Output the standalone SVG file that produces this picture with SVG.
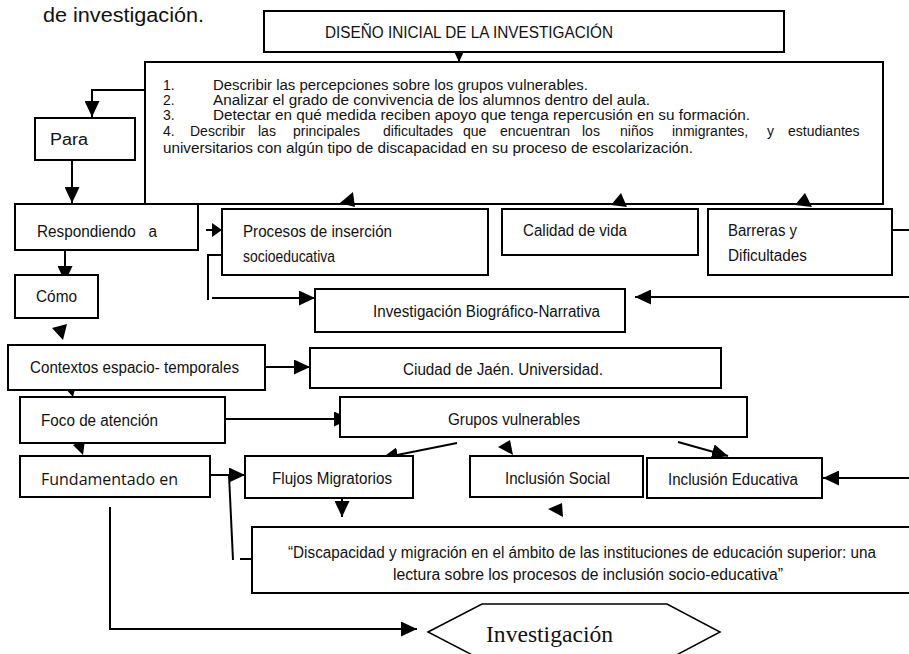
<svg xmlns="http://www.w3.org/2000/svg" width="909" height="654" viewBox="0 0 909 654">
<style>
.box{fill:#fff;stroke:#000;stroke-width:2}
.t{font-family:"Liberation Sans",Arial,sans-serif;font-size:16px;fill:#111}
.o{font-family:"Liberation Sans",Arial,sans-serif;font-size:14px;fill:#111}
.c{stroke:#000;stroke-width:2;fill:none}
.ah{fill:#000}
</style>
<defs>
<marker id="arr" markerUnits="userSpaceOnUse" markerWidth="16" markerHeight="15" refX="16" refY="7.5" orient="auto">
<path d="M0,0 L16,7.5 L0,15 z" fill="#000"/>
</marker>
</defs>
<rect width="909" height="654" fill="#fff"/>
<text class="t" x="43" y="22" style="font-size:20px" textLength="161" lengthAdjust="spacingAndGlyphs">de investigación.</text>

<g id="connectors">
<line class="c" x1="459" y1="46" x2="459" y2="62" marker-end="url(#arr)"/>
<polyline class="c" points="145,90 92,90 92,117" marker-end="url(#arr)"/>
<line class="c" x1="72" y1="160" x2="72" y2="203" marker-end="url(#arr)"/>
<line class="c" x1="206" y1="230" x2="214" y2="230"/>
<polygon class="ah" points="212,223 222,230 212,237"/>
<polyline class="c" points="222,255 208,255 208,300"/>
<line class="c" x1="212" y1="298" x2="315" y2="298" marker-end="url(#arr)"/>
<line class="c" x1="909" y1="297" x2="635" y2="297" marker-end="url(#arr)"/>
<line class="c" x1="892" y1="230" x2="909" y2="230"/>
<polygon class="ah" points="340,203 353,192 355,207"/>
<polygon class="ah" points="611,205 627,207 621,193"/>
<polygon class="ah" points="795,205 812,207 805,193"/>
<line class="c" x1="65" y1="250" x2="65" y2="282" marker-end="url(#arr)"/>
<polygon class="ah" points="52,328 67,324 63,340"/>
<polygon class="ah" points="63,386 77,381 73,397"/>
<polygon class="ah" points="73,445 85,440 83,455"/>
<line class="c" x1="265" y1="367" x2="310" y2="367" marker-end="url(#arr)"/>
<line class="c" x1="225" y1="419" x2="350" y2="419" marker-end="url(#arr)"/>
<line class="c" x1="457" y1="443" x2="382" y2="458" marker-end="url(#arr)"/>
<polygon class="ah" points="498,447 510,440 513,455"/>
<line class="c" x1="678" y1="442" x2="728" y2="456" marker-end="url(#arr)"/>
<line class="c" x1="909" y1="478" x2="823" y2="478" marker-end="url(#arr)"/>
<line class="c" x1="211" y1="475" x2="245" y2="475" marker-end="url(#arr)"/>
<line class="c" x1="229" y1="475" x2="233" y2="560"/>
<line class="c" x1="240" y1="559" x2="257" y2="559"/>
<line class="c" x1="342" y1="498" x2="342" y2="517" marker-end="url(#arr)"/>
<polygon class="ah" points="548,509 562,503 563,517"/>
<line class="c" x1="887" y1="543" x2="909" y2="543"/>
<polyline class="c" points="110,507 110,629 417,629" marker-end="url(#arr)"/>
</g>

<g id="diseno">
<rect class="box" x="264" y="11" width="520" height="41"/>
<text class="t" x="325" y="38" textLength="288" lengthAdjust="spacingAndGlyphs">DISEÑO INICIAL DE LA INVESTIGACIÓN</text>
</g>

<g id="objetivos">
<polyline class="c" points="145,204 145,62 883,62 883,204 145,204"/>
<text class="o" x="163" y="90">1.</text>
<text class="o" x="213" y="90" textLength="375" lengthAdjust="spacingAndGlyphs">Describir las percepciones sobre los grupos vulnerables.</text>
<text class="o" x="163" y="105">2.</text>
<text class="o" x="213" y="105" textLength="437" lengthAdjust="spacingAndGlyphs">Analizar el grado de convivencia de los alumnos dentro del aula.</text>
<text class="o" x="163" y="120">3.</text>
<text class="o" x="213" y="120" textLength="537" lengthAdjust="spacingAndGlyphs">Detectar en qué medida reciben apoyo que tenga repercusión en su formación.</text>
<text class="o" y="136"><tspan x="163">4.</tspan><tspan x="190">Describir</tspan><tspan x="258">las</tspan><tspan x="293">principales</tspan><tspan x="383">dificultades</tspan><tspan x="463">que</tspan><tspan x="500">encuentran</tspan><tspan x="582">los</tspan><tspan x="620">niños</tspan><tspan x="672">inmigrantes,</tspan><tspan x="767">y</tspan><tspan x="788">estudiantes</tspan></text>
<text class="o" x="163" y="153" textLength="530" lengthAdjust="spacingAndGlyphs">universitarios con algún tipo de discapacidad en su proceso de escolarización.</text>
</g>

<g id="para">
<rect class="box" x="35" y="118" width="100" height="42"/>
<text class="t" x="50" y="145" textLength="38" lengthAdjust="spacingAndGlyphs">Para</text>
</g>

<g id="respondiendo">
<rect class="box" x="15" y="204" width="183" height="46"/>
<text class="t" x="37" y="237" xml:space="preserve" textLength="120" lengthAdjust="spacingAndGlyphs">Respondiendo   a</text>
</g>

<g id="procesos">
<rect class="box" x="222" y="209" width="266" height="66"/>
<text class="t" x="243" y="237" textLength="149" lengthAdjust="spacingAndGlyphs">Procesos de inserción</text>
<text class="t" x="243" y="262" textLength="92" lengthAdjust="spacingAndGlyphs">socioeducativa</text>
</g>

<g id="calidad">
<rect class="box" x="502" y="209" width="196" height="46"/>
<text class="t" x="523" y="236" textLength="104" lengthAdjust="spacingAndGlyphs">Calidad de vida</text>
</g>

<g id="barreras">
<rect class="box" x="708" y="209" width="184" height="66"/>
<text class="t" x="728" y="236" textLength="69" lengthAdjust="spacingAndGlyphs">Barreras y</text>
<text class="t" x="728" y="261" textLength="79" lengthAdjust="spacingAndGlyphs">Dificultades</text>
</g>

<g id="como">
<rect class="box" x="15" y="275" width="83" height="43"/>
<text class="t" x="36" y="302" textLength="41" lengthAdjust="spacingAndGlyphs">Cómo</text>
</g>

<g id="biografico">
<rect class="box" x="315" y="289" width="310" height="43"/>
<text class="t" x="373" y="317" textLength="227" lengthAdjust="spacingAndGlyphs">Investigación Biográfico-Narrativa</text>
</g>

<g id="contextos">
<rect class="box" x="8" y="345" width="257" height="45"/>
<text class="t" x="30" y="373" textLength="209" lengthAdjust="spacingAndGlyphs">Contextos espacio- temporales</text>
</g>

<g id="ciudad">
<rect class="box" x="310" y="348" width="411" height="40"/>
<text class="t" x="403" y="375" textLength="200" lengthAdjust="spacingAndGlyphs">Ciudad de Jaén. Universidad.</text>
</g>

<g id="foco">
<rect class="box" x="20" y="397" width="205" height="46"/>
<text class="t" x="41" y="426" textLength="117" lengthAdjust="spacingAndGlyphs">Foco de atención</text>
</g>

<g id="grupos">
<rect class="box" x="340" y="397" width="407" height="40"/>
<text class="t" x="448" y="425" textLength="132" lengthAdjust="spacingAndGlyphs">Grupos vulnerables</text>
</g>

<g id="fundamentado">
<rect class="box" x="20" y="456" width="190" height="41"/>
<text x="41" y="485" style="font-family:'Open Sans','Noto Sans',sans-serif;font-size:17px;fill:#111" textLength="137" lengthAdjust="spacingAndGlyphs">Fundamentado en</text>
</g>

<g id="flujos">
<rect class="box" x="245" y="456" width="168" height="42"/>
<text class="t" x="272" y="484" textLength="120" lengthAdjust="spacingAndGlyphs">Flujos Migratorios</text>
</g>

<g id="inclusion-social">
<rect class="box" x="470" y="456" width="173" height="41"/>
<text class="t" x="505" y="484" textLength="105" lengthAdjust="spacingAndGlyphs">Inclusión Social</text>
</g>

<g id="inclusion-educativa">
<rect class="box" x="647" y="458" width="175" height="40"/>
<text class="t" x="668" y="485" textLength="130" lengthAdjust="spacingAndGlyphs">Inclusión Educativa</text>
</g>

<g id="discapacidad">
<rect class="box" x="252" y="527" width="680" height="66"/>
<text class="t" x="288" y="558" textLength="588" lengthAdjust="spacingAndGlyphs">“Discapacidad y migración en el ámbito de las instituciones de educación superior: una</text>
<text class="t" x="393" y="580" textLength="390" lengthAdjust="spacingAndGlyphs">lectura sobre los procesos de inclusión socio-educativa”</text>
</g>

<g id="investigacion">
<polygon points="428,632 482,604 667,604 720,632 667,660 482,660" fill="#fff" stroke="#000" stroke-width="1.5"/>
<text x="486" y="642" style="font-family:'Liberation Serif','Times New Roman',serif;font-size:23px;fill:#111" textLength="127" lengthAdjust="spacingAndGlyphs">Investigación</text>
</g>
</svg>
